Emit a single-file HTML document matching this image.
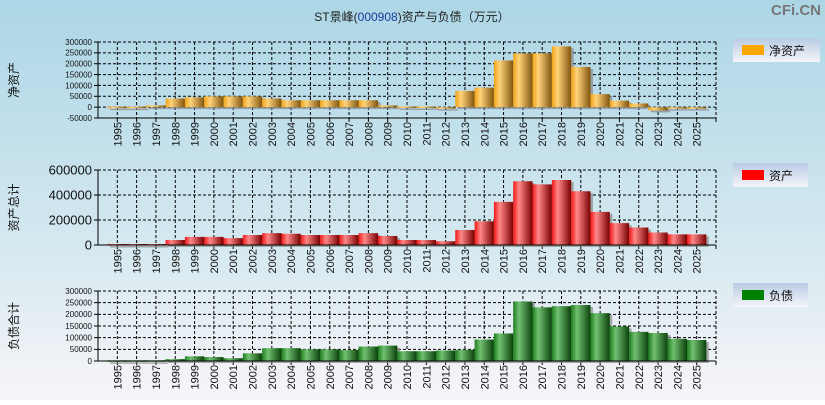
<!DOCTYPE html>
<html><head><meta charset="utf-8"><style>
body{margin:0;width:825px;height:400px;overflow:hidden;font-family:"Liberation Sans","Noto Sans CJK SC",sans-serif;}
</style></head><body>
<svg id="s" width="825" height="400" xmlns="http://www.w3.org/2000/svg" font-family="Liberation Sans, Noto Sans CJK SC, sans-serif">
<defs>
<linearGradient id="bg" x1="0" y1="0" x2="0" y2="1"><stop offset="0" stop-color="#acd6e6"/><stop offset="0.6" stop-color="#d4e8f0"/><stop offset="1" stop-color="#f7f5f8"/></linearGradient>
<linearGradient id="go" x1="0" y1="0" x2="1" y2="0"><stop offset="0" stop-color="#f0a418"/><stop offset="0.3" stop-color="#ffd27a"/><stop offset="1" stop-color="#80560e"/></linearGradient>
<linearGradient id="gr" x1="0" y1="0" x2="1" y2="0"><stop offset="0" stop-color="#f01818"/><stop offset="0.3" stop-color="#ff8888"/><stop offset="1" stop-color="#7a0000"/></linearGradient>
<linearGradient id="gg" x1="0" y1="0" x2="1" y2="0"><stop offset="0" stop-color="#1e7e1e"/><stop offset="0.3" stop-color="#72c072"/><stop offset="1" stop-color="#0a420a"/></linearGradient>
<linearGradient id="lg" x1="0" y1="0" x2="0" y2="1"><stop offset="0" stop-color="#b8cce4"/><stop offset="1" stop-color="#f4f4f8"/></linearGradient>
</defs>
<rect width="825" height="400" fill="url(#bg)"/>
<text x="412" y="21" font-size="12" text-anchor="middle" fill="#222">ST景峰(<tspan fill="#1a3c9c">000908</tspan>)资产与负债（万元）</text>
<text x="821" y="15" font-size="15" font-weight="bold" text-anchor="end" fill="#777">CFi.CN</text>
<g id="g"></g>
</svg>
<script>
var yrs=[];for(var y=1995;y<=2025;y++)yrs.push(y);
var L=98,R=716,st=(R-L)/32;
var charts=[
{top:42,bot:118,min:-50000,max:300000,ticks:[300000,250000,200000,150000,100000,50000,0,-50000],fs:8,fill:"url(#go)",title:"净资产",lt:"净资产",ly:38,lc:"#ffa500",lw:87,
d:[2000,2000,8000,40000,45000,50000,50000,50000,40000,32000,32000,32000,32000,32000,8000,3000,3000,-3000,75000,90000,215000,248000,248000,280000,185000,60000,30000,17000,-15000,-3000,-3000]},
{top:170,bot:245,min:0,max:600000,ticks:[600000,400000,200000,0],fs:13,fill:"url(#gr)",title:"资产总计",lt:"资产",ly:163,lc:"#ff0000",lw:75,
d:[8000,8000,8000,40000,65000,65000,55000,80000,95000,90000,80000,80000,80000,95000,72000,40000,40000,30000,120000,190000,345000,510000,485000,520000,430000,265000,175000,140000,100000,85000,85000]},
{top:291,bot:361,min:0,max:300000,ticks:[300000,250000,200000,150000,100000,50000,0],fs:8,fill:"url(#gg)",title:"负债合计",lt:"负债",ly:283,lc:"#008000",lw:75,
d:[3000,3000,3000,8000,20000,17000,12000,33000,55000,55000,50000,50000,47000,62000,66000,42000,42000,45000,48000,92000,118000,255000,230000,235000,240000,205000,148000,125000,120000,95000,90000]}];
var h="";
charts.forEach(function(c){
 function Y(v){return c.top+(c.max-v)*(c.bot-c.top)/(c.max-c.min);}
 var z=Y(0);
 // grid
 c.ticks.forEach(function(t){var y=Y(t);if(t!==c.min)h+='<line x1="'+L+'" x2="'+R+'" y1="'+y+'" y2="'+y+'" stroke="#000" stroke-dasharray="3,2"/>';
  h+='<line x1="'+(L-4)+'" x2="'+L+'" y1="'+y+'" y2="'+y+'" stroke="#000"/>';
  h+='<text x="'+(L-6)+'" y="'+(y+c.fs*0.36)+'" font-size="'+c.fs+'" text-anchor="end" fill="#111">'+t+'</text>';});
 for(var i=1;i<=32;i++){var x=L+st*i;h+='<line x1="'+x+'" x2="'+x+'" y1="'+c.top+'" y2="'+c.bot+'" stroke="#000" stroke-dasharray="3,2"/>';
  h+='<line x1="'+x+'" x2="'+x+'" y1="'+c.bot+'" y2="'+(c.bot+4)+'" stroke="#000"/>';}
 // bars
 c.d.forEach(function(v,i){var cx=L+st*(i+1),x=cx-st/2,y1=Math.min(Y(v),z),hh=Math.max(Math.abs(Y(v)-z),1.5);
  h+='<rect x="'+(x+2.5)+'" y="'+(y1+2)+'" width="'+st+'" height="'+hh+'" fill="#888" opacity="0.7"/>';
  h+='<rect x="'+x+'" y="'+y1+'" width="'+st+'" height="'+hh+'" fill="'+c.fill+'"/>';});
 h+='<line x1="'+L+'" x2="'+L+'" y1="'+c.top+'" y2="'+c.bot+'" stroke="#000"/>';
 h+='<line x1="'+L+'" x2="'+R+'" y1="'+c.bot+'" y2="'+c.bot+'" stroke="#000"/>';
 yrs.forEach(function(yr,i){var x=L+st*(i+1)+4;var y=c.bot+4;
  h+='<text transform="translate('+x+','+y+') rotate(-90)" font-size="11" text-anchor="end" fill="#111">'+yr+'</text>';});
 var my=(c.top+c.bot)/2;
 h+='<text transform="translate(18,'+my+') rotate(-90)" font-size="12" text-anchor="middle" fill="#111">'+c.title+'</text>';
 h+='<rect x="733" y="'+c.ly+'" width="'+c.lw+'" height="24" fill="url(#lg)"/>';
 h+='<rect x="742" y="'+(c.ly+7)+'" width="22" height="10" fill="'+c.lc+'"/>';
 h+='<text x="769" y="'+(c.ly+17)+'" font-size="12" fill="#111">'+c.lt+'</text>';
});
document.getElementById("g").innerHTML=h;
</script>
</body></html>
